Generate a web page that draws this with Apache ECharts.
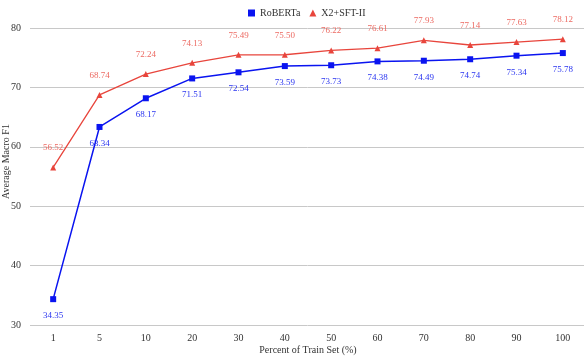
<!DOCTYPE html>
<html>
<head>
<meta charset="utf-8">
<script src="https://cdn.jsdelivr.net/npm/echarts@6/dist/echarts.min.js"></script>
<style>
  html, body { margin: 0; padding: 0; background: #fff; }
  #chart { width: 584px; height: 356px; }
</style>
</head>
<body>
<div id="chart"></div>
<script>
  // x categories (percent of train set)
  var categories = ['1', '5', '10', '20', '30', '40', '50', '60', '70', '80', '90', '100'];
  var roberta = [34.35, 63.34, 68.17, 71.51, 72.54, 73.59, 73.73, 74.38, 74.49, 74.74, 75.34, 75.78];
  var x2sft = [56.52, 68.74, 72.24, 74.13, 75.49, 75.50, 76.22, 76.61, 77.93, 77.14, 77.63, 78.12];

  var serif = 'Liberation Serif';
  var chart = echarts.init(document.getElementById('chart'));

  chart.setOption({
    animation: false,
    textStyle: { fontFamily: serif },
    legend: {
      top: 3,
      left: 243,
      itemWidth: 7,
      itemHeight: 7,
      itemGap: 9,
      textStyle: { fontFamily: serif, fontSize: 10, color: '#333' },
      data: [
        { name: 'RoBERTa', icon: 'rect' },
        { name: 'X2+SFT-II', icon: 'triangle' }
      ]
    },
    grid: { left: 30, right: -2, top: 28, bottom: 31, outerBoundsMode: 'none' },
    xAxis: {
      type: 'category',
      data: categories,
      name: 'Percent of Train Set (%)',
      nameLocation: 'middle',
      nameGap: 20,
      nameMoveOverlap: false,
      nameTextStyle: { fontFamily: serif, fontSize: 10, color: '#333' },
      axisLine: { show: false },
      axisTick: { show: false },
      axisLabel: { fontFamily: serif, fontSize: 10, color: '#333', margin: 8 }
    },
    yAxis: {
      type: 'value',
      min: 30,
      max: 80,
      interval: 10,
      name: 'Average Macro F1',
      nameLocation: 'middle',
      nameGap: 19,
      nameMoveOverlap: false,
      nameTextStyle: { fontFamily: serif, fontSize: 10, color: '#333', padding: [0, 0, 0, 30] },
      axisLine: { show: false },
      axisTick: { show: false },
      axisLabel: { fontFamily: serif, fontSize: 10, color: '#333', margin: 9 },
      splitLine: { lineStyle: { color: '#c8c8c8', width: 1 } }
    },
    series: [
      {
        name: 'RoBERTa',
        type: 'line',
        data: roberta,
        symbol: 'rect',
        symbolSize: 6,
        itemStyle: { color: '#0a14f0' },
        lineStyle: { color: '#0a14f0', width: 1.5 },
        label: {
          show: true,
          position: 'bottom',
          distance: 9,
          fontFamily: serif,
          fontSize: 9,
          color: '#2a35f0',
          formatter: function (p) { return p.value.toFixed(2); }
        }
      },
      {
        name: 'X2+SFT-II',
        type: 'line',
        data: x2sft,
        symbol: 'triangle',
        symbolSize: 6,
        itemStyle: { color: '#e8453c' },
        lineStyle: { color: '#e8453c', width: 1.3 },
        label: {
          show: true,
          position: 'top',
          distance: 12,
          fontFamily: serif,
          fontSize: 9,
          color: '#ec6a62',
          formatter: function (p) { return p.value.toFixed(2); }
        }
      }
    ]
  });
</script>
</body>
</html>
